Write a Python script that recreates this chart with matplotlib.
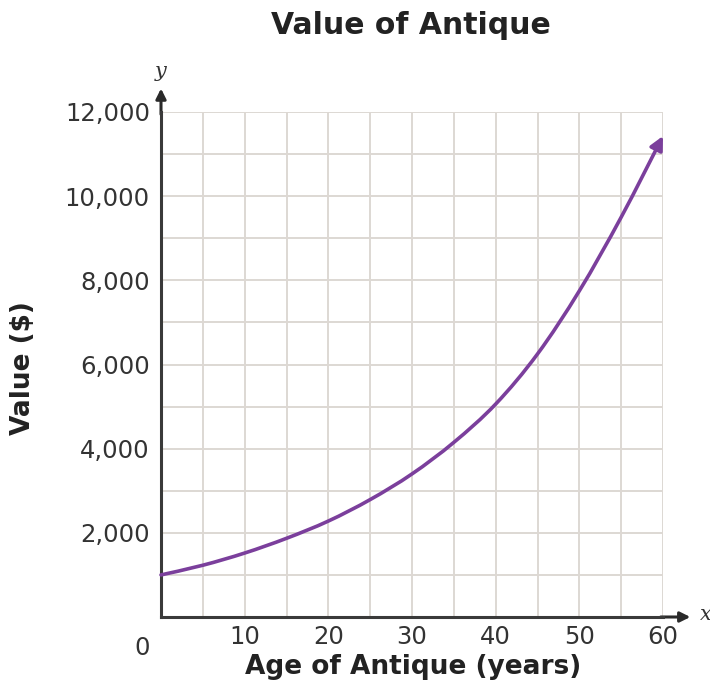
import matplotlib
matplotlib.use("Agg")
import matplotlib.pyplot as plt
from matplotlib.path import Path
from matplotlib.patches import FancyArrowPatch

# Data
age_years = [0, 5, 10, 15, 20, 25, 30, 35, 40, 45, 50, 55, 60]
value_dollars = [1000, 1230, 1520, 1870, 2280, 2790, 3400, 4150, 5060, 6250, 7750, 9500, 11430]
x_ticks = [10, 20, 30, 40, 50, 60]
y_ticks = [2000, 4000, 6000, 8000, 10000, 12000]
y_tick_labels = ["2,000", "4,000", "6,000", "8,000", "10,000", "12,000"]

title = "Value of Antique"
xlabel = "Age of Antique (years)"
ylabel = "Value ($)"

W, H = 710, 686
fig = plt.figure(figsize=(W / 100, H / 100), dpi=100)
L, R = 161 / W, 663 / W
B, T = 1 - 617 / H, 1 - 112 / H
ax = fig.add_axes([L, B, R - L, T - B])

ax.set_xlim(0, 60)
ax.set_ylim(0, 12000)

grid_color = "#ddd8d3"
for gx in range(5, 61, 5):
    ax.axvline(gx, color=grid_color, lw=1.4, zorder=1)
for gy in range(1000, 12001, 1000):
    ax.axhline(gy, color=grid_color, lw=1.4, zorder=1)

for s in ["top", "right"]:
    ax.spines[s].set_visible(False)
for s in ["left", "bottom"]:
    ax.spines[s].set_color("#3a3a3a")
    ax.spines[s].set_linewidth(2.2)
    ax.spines[s].set_zorder(3)

# axis arrows
axis_col = "#2a2a2a"
ax.annotate("", xy=(0, 1.052), xytext=(0, 0.99), xycoords="axes fraction",
            arrowprops=dict(arrowstyle="-|>", color=axis_col, lw=2.2, mutation_scale=15),
            annotation_clip=False)
ax.annotate("", xy=(1.06, 0), xytext=(0.99, 0), xycoords="axes fraction",
            arrowprops=dict(arrowstyle="-|>", color=axis_col, lw=2.2, mutation_scale=15),
            annotation_clip=False)
ax.text(0.0, 1.08, "y", transform=ax.transAxes, ha="center", va="center",
        fontsize=15, fontstyle="italic", family="DejaVu Serif", color="#333333")
ax.text(1.085, 0.005, "x", transform=ax.transAxes, ha="center", va="center",
        fontsize=15, fontstyle="italic", family="DejaVu Serif", color="#333333")

# smooth curve through the read points (Catmull-Rom as cubic Bezier), ending in an arrow
pts = list(zip(age_years, value_dollars))
ext = [pts[0]] + pts + [pts[-1]]
verts = [pts[0]]
codes = [Path.MOVETO]
for i in range(1, len(ext) - 2):
    p0, p1, p2, p3 = ext[i - 1], ext[i], ext[i + 1], ext[i + 2]
    c1 = (p1[0] + (p2[0] - p0[0]) / 6, p1[1] + (p2[1] - p0[1]) / 6)
    c2 = (p2[0] - (p3[0] - p1[0]) / 6, p2[1] - (p3[1] - p1[1]) / 6)
    verts += [c1, c2, p2]
    codes += [Path.CURVE4] * 3
curve_col = "#7b3f9c"
arrow = FancyArrowPatch(path=Path(verts, codes), arrowstyle="-|>", mutation_scale=20,
                        color=curve_col, lw=2.6, transform=ax.transData, zorder=4,
                        clip_on=False)
ax.add_patch(arrow)

ax.set_xticks(x_ticks)
ax.set_xticklabels([str(t) for t in x_ticks])
ax.set_yticks(y_ticks)
ax.set_yticklabels(y_tick_labels)
ax.tick_params(length=0, labelsize=17.5, labelcolor="#333333")
ax.tick_params(axis="x", pad=6)
ax.tick_params(axis="y", pad=8)
ax.text(-0.037, -0.038, "0", transform=ax.transAxes, ha="center", va="top",
        fontsize=17.5, color="#333333")

fig.text(411 / W, 1 - 25 / H, title, ha="center", va="center", fontsize=21.5,
         fontweight="bold", color="#222222")
fig.text(413 / W, 1 - 667 / H, xlabel, ha="center", va="center", fontsize=19,
         fontweight="bold", color="#222222")
fig.text(23 / W, 1 - 368 / H, ylabel, ha="center", va="center", fontsize=19,
         fontweight="bold", color="#222222", rotation=90)

fig.savefig("out.png", dpi=100, facecolor="white")
